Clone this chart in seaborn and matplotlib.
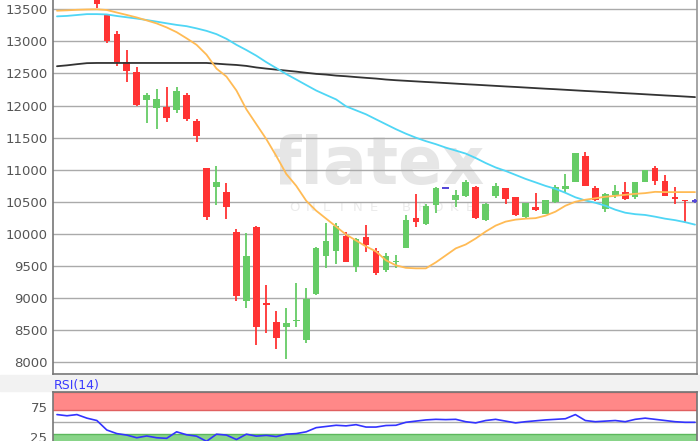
import numpy as np
import pandas as pd
import matplotlib
matplotlib.use("Agg")
import matplotlib.pyplot as plt
import seaborn as sns
from matplotlib.patches import Rectangle

# ---------------- data ----------------
candle_idx = list(range(4, 65))
opens = [13750, 13412, 13118, 12684, 12519, 12080, 11967, 11983, 11926, 12158,
         11760, 11023, 10729, 10661, 10033, 8958, 10110, 8915, 8628, 8551,
         8645, 8355, 9062, 9661, 9738, 9970, 9480, 9955, 9732, 9438,
         9565, 9785, 10254, 10161, 10444, 10714, 10533, 10590, 10738, 10212,
         10599, 10714, 10574, 10265, 10420, 10316, 10491, 10703, 10816, 11209,
         10714, 10393, 10614, 10652, 10574, 10816, 11023, 10831, 10574, 10525,
         10512]
highs = [13800, 13420, 13169, 12870, 12602, 12200, 12251, 12293, 12293, 12200,
         11797, 11030, 11063, 10796, 10074, 10022, 10120, 9206, 8803, 8845,
         9232, 9155, 9800, 10176, 10176, 10032, 9930, 10135, 9774, 9697,
         9670, 10289, 10625, 10470, 10729, 10714, 10692, 10847, 10754, 10475,
         10796, 10720, 10580, 10490, 10641, 10530, 10760, 10935, 11265, 11280,
         10754, 10640, 10769, 10806, 10815, 11000, 11063, 10920, 10729, 10530,
         10540]
lows = [13520, 12973, 12611, 12364, 11990, 11724, 11632, 11746, 11890, 11760,
        11426, 10223, 10444, 10238, 8958, 8845, 8277, 8458, 8215, 8045,
        8546, 8303, 9050, 9465, 9531, 9557, 9413, 9723, 9361, 9413,
        9475, 9775, 10110, 10135, 10327, 10714, 10420, 10580, 10240, 10197,
        10563, 10471, 10280, 10255, 10360, 10305, 10480, 10641, 10810, 10750,
        10515, 10342, 10559, 10530, 10548, 10810, 10769, 10585, 10460, 10176,
        10485]
closes = [13575, 13014, 12673, 12534, 12003, 12158, 12096, 11813, 12224, 11797,
          11519, 10265, 10816, 10419, 9026, 9655, 8546, 8900, 8381, 8613,
          8660, 8984, 9774, 9893, 10119, 9568, 9918, 9825, 9398, 9655,
          9580, 10212, 10187, 10435, 10718, 10714, 10610, 10806, 10249, 10471,
          10754, 10537, 10300, 10481, 10367, 10522, 10734, 10754, 11260, 10754,
          10522, 10625, 10676, 10537, 10806, 10997, 10831, 10590, 10537, 10510,
          10512]

line_idx = list(range(65))
ma_short = [13478, 13484, 13492, 13497, 13500, 13489, 13450, 13412, 13373, 13327,
            13280, 13218, 13144, 13048, 12947, 12793, 12576, 12452, 12235, 11941,
            11709, 11477, 11214, 10935, 10749, 10517, 10362, 10238, 10114, 9990,
            9898, 9805, 9728, 9589, 9511, 9472, 9464, 9464, 9557, 9666,
            9775, 9836, 9929, 10037, 10130, 10192, 10223, 10238, 10246, 10285,
            10347, 10440, 10502, 10533, 10556, 10579, 10594, 10610, 10625, 10636,
            10656, 10652, 10652, 10652, 10652]
ma_mid = [13390, 13397, 13411, 13425, 13425, 13420, 13396, 13376, 13356, 13333,
          13308, 13282, 13257, 13237, 13203, 13164, 13113, 13040, 12947, 12865,
          12777, 12676, 12584, 12491, 12406, 12320, 12235, 12165, 12096, 11988,
          11926, 11864, 11786, 11709, 11632, 11562, 11500, 11446, 11399, 11345,
          11299, 11252, 11183, 11105, 11036, 10982, 10920, 10858, 10804, 10749,
          10703, 10641, 10571, 10522, 10486, 10440, 10378, 10331, 10308, 10296,
          10269, 10238, 10215, 10184, 10145]
ma_long = [12613, 12627, 12645, 12661, 12664, 12664, 12664, 12664, 12664, 12664,
           12664, 12664, 12664, 12664, 12664, 12664, 12653, 12642, 12633, 12618,
           12594, 12576, 12560, 12545, 12529, 12511, 12494, 12483, 12467, 12457,
           12444, 12432, 12421, 12406, 12395, 12386, 12377, 12368, 12360, 12351,
           12342, 12333, 12325, 12316, 12307, 12298, 12290, 12281, 12272, 12263,
           12255, 12246, 12237, 12228, 12220, 12211, 12202, 12193, 12185, 12176,
           12167, 12158, 12150, 12141, 12132]
rsi = [62, 60, 62, 56, 52, 36, 30, 27.5, 23, 26,
       23, 22, 33, 28, 25.7, 17, 29, 27.5, 20, 29,
       25.7, 27, 25, 29, 30, 33, 40, 42, 44, 43,
       45, 41, 41, 43.6, 44, 49, 51, 53, 54, 53.5,
       54, 50, 48, 52, 54, 51, 48, 50, 51.5, 53,
       54, 55, 62, 52, 50, 51, 52, 50, 54, 56,
       54, 52, 50, 49, 49]

price_ticks = list(range(8000, 14000, 500))
rsi_ticks = [25, 75]
watermark_main = 'flatex'
watermark_sub = 'ONLINE BROKER'

# ---------------- figure ----------------
sns.set_theme(style="white")
plt.rcParams['font.family'] = ['DejaVu Sans']

W, H = 700, 441
fig = plt.figure(figsize=(7, 4.41), dpi=100, facecolor='white')
fig.patches.append(Rectangle((0, 1 - 391 / H), 1, (391 - 375) / H,
                             transform=fig.transFigure, color='#f2f2f2', zorder=-5))

ax = fig.add_axes([53 / W, 1 - 374 / H, (697 - 53) / W, 374 / H])
ax2 = fig.add_axes([53 / W, -10 / H, (697 - 53) / W, (451 - 392) / H])

# candles
UP, DOWN, FLAT = '#66cc66', '#ff3333', '#5548d8'
cols = []
for o, c in zip(opens, closes):
    cols.append(UP if c > o else (DOWN if c < o else FLAT))
df = pd.DataFrame({'i': candle_idx, 'o': opens, 'h': highs, 'l': lows, 'c': closes, 'col': cols})
df['bot'] = df[['o', 'c']].min(axis=1)
df['hgt'] = (df['c'] - df['o']).abs()
small = df['hgt'] < 22
df.loc[small, 'bot'] = (df['o'] + df['c']) / 2 - 11
df.loc[small, 'hgt'] = 22

ax.vlines(df['i'], df['l'], df['h'], colors=df['col'], lw=1.3, zorder=3)
ax.bar(df['i'], df['hgt'], bottom=df['bot'], width=0.66, color=df['col'],
       linewidth=0, zorder=4)

# moving averages
lines = pd.DataFrame({'i': line_idx, 'short': ma_short, 'mid': ma_mid, 'long': ma_long})
sns.lineplot(data=lines, x='i', y='long', ax=ax, color='#333333', lw=1.3, zorder=5)
sns.lineplot(data=lines, x='i', y='mid', ax=ax, color='#4fd6f5', lw=1.3, zorder=5)
sns.lineplot(data=lines, x='i', y='short', ax=ax, color='#ffbb55', lw=1.3, zorder=5)

# watermark
ax.text(32.3, 10780, watermark_main, ha='center', va='baseline', fontsize=47,
        fontweight='bold', color='#e6e6e6', zorder=0.1)
for k, ch in enumerate(watermark_sub):
    ax.text(23.8 + 1.6 * k, 10362, ch, ha='center', va='baseline',
            fontsize=9.5, color='#ebebeb', zorder=0.1)

ax.set_xlim(-0.4, 64.2)
ax.set_ylim(7818, 13645)
ax.set_yticks(price_ticks)
ax.set_xticks([])
ax.set_xlabel('')
ax.set_ylabel('')
ax.set_axisbelow(True)
ax.yaxis.grid(True, color='#aaaaaa', lw=1)
ax.tick_params(axis='y', labelsize=9.5, labelcolor='#555555', length=0, pad=4)
for s in ['left', 'bottom']:
    ax.spines[s].set_color('#777777')
    ax.spines[s].set_linewidth(1.2)
ax.spines['right'].set_color('#999999')
ax.spines['top'].set_visible(False)

# RSI panel
ax2.axhspan(70, 100, color='#ff8888', lw=0, zorder=0)
ax2.axhspan(0, 30, color='#88d488', lw=0, zorder=0)
ax2.axhline(70, color='#e06060', lw=1, zorder=1)
ax2.axhline(100, color='#e06060', lw=1, zorder=1)
ax2.axhline(30, color='#5cb85c', lw=1, zorder=1)
ax2.axhline(50, color='#aaaaaa', lw=1, zorder=1)
rdf = pd.DataFrame({'i': line_idx, 'rsi': rsi})
sns.lineplot(data=rdf, x='i', y='rsi', ax=ax2, color='#3333ff', lw=1.2, zorder=5)
ax2.set_xlim(-0.4, 64.2)
ax2.set_ylim(0.7, 100)
ax2.set_yticks(rsi_ticks)
ax2.set_xticks([])
ax2.set_xlabel('')
ax2.set_ylabel('')
ax2.tick_params(axis='y', labelsize=9.5, labelcolor='#555555', length=0, pad=4)
for s in ['left', 'top', 'right', 'bottom']:
    ax2.spines[s].set_color('#777777')
ax2.spines['left'].set_linewidth(1.2)

fig.text(54 / W, 1 - 385 / H, 'RSI(14)', color='#3a3aff', fontsize=9, va='center', ha='left')

fig.savefig('out.png', dpi=100, facecolor=fig.get_facecolor())
